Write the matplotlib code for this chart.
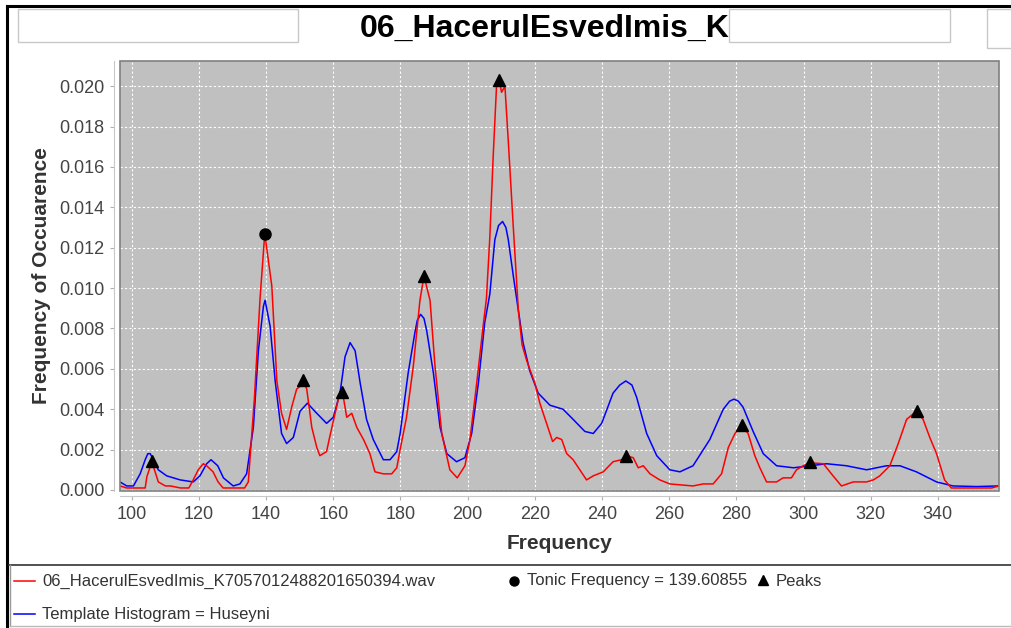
import matplotlib
matplotlib.use("Agg")
import matplotlib.pyplot as plt
from matplotlib.lines import Line2D
from matplotlib.patches import Rectangle

# ---- data ----
red_f = [96.5, 98.5, 101, 104, 104.5, 106, 107.9, 110, 111.5, 114.5, 117, 118.3, 119.8,
         121.3, 122.3, 124.2, 125.7, 127.2, 130, 133.6, 134.7, 136.5, 138.2, 139.6,
         141.7, 143.2, 144.6, 146.1, 147.6, 149.1, 150.6, 151.1, 152.1, 153.6, 155.1,
         156.0, 158.0, 158.9, 161.5, 162.7, 164.0, 165.5, 167.0, 169.0, 170.9, 172.4,
         174.9, 177.4, 178.9, 179.9, 181.8, 183.8, 185.8, 187.0, 188.8, 190.3, 192.3,
         194.7, 196.9, 199.2, 200.7, 202.7, 204.6, 205.6, 206.6, 207.6, 208.6, 209.4,
         210.1, 211.1, 212.1, 213.6, 215.1, 216.2, 217.6, 220.0, 221.5, 223.5, 225.3,
         226.5, 228.0, 229.5, 231.4, 233.4, 235.4, 237.4, 240.4, 243.3, 245.8, 247.1,
         249.3, 250.8, 252.3, 254.3, 257.2, 260.2, 267.1, 270.1, 273.1, 275.6, 277.6,
         279.6, 281.5, 283.5, 285.5, 287.0, 289.0, 292.0, 293.9, 296.4, 297.9, 299.9,
         301.9, 305.9, 308.8, 311.3, 314.8, 318.8, 320.8, 322.7, 325.7, 328.2, 330.7,
         333.6, 335.6, 337.6, 339.6, 342.0, 344.0, 356.0, 358.2]
red_v = [0.0002, 0.0001, 0.0001, 0.0001, 0.00066, 0.0014, 0.0004, 0.0002, 0.0002, 0.0001,
         0.0001, 0.0005, 0.0010, 0.0013, 0.0012, 0.0009, 0.0004, 0.0001, 0.0001, 0.0001,
         0.0004, 0.0045, 0.0095, 0.0127, 0.0101, 0.0054, 0.0038, 0.0030, 0.0041, 0.0050,
         0.0052, 0.0054, 0.0050, 0.0031, 0.0021, 0.0017, 0.0019, 0.0026, 0.0045, 0.0049,
         0.0036, 0.0038, 0.0031, 0.0025, 0.0018, 0.0009, 0.0008, 0.0008, 0.0011, 0.0020,
         0.0036, 0.0061, 0.0094, 0.0106, 0.0094, 0.0061, 0.0028, 0.0010, 0.0006, 0.0012,
         0.0025, 0.0053, 0.0081, 0.0095, 0.0125, 0.0165, 0.0200, 0.0203, 0.0197, 0.0200,
         0.0173, 0.0130, 0.0089, 0.0072, 0.0064, 0.0053, 0.0043, 0.0033, 0.0024, 0.0026,
         0.0025, 0.0018, 0.0015, 0.0010, 0.0005, 0.0007, 0.0009, 0.0014, 0.0015, 0.0017,
         0.0016, 0.0011, 0.0012, 0.0008, 0.0005, 0.0003, 0.0002, 0.0003, 0.0003, 0.0008,
         0.0021, 0.0028, 0.0032, 0.0028, 0.0017, 0.0011, 0.0004, 0.0004, 0.0006, 0.0006,
         0.0010, 0.0012, 0.00135, 0.0013, 0.0007, 0.0002, 0.0004, 0.0004, 0.0005, 0.0007,
         0.0012, 0.0023, 0.0035, 0.0039, 0.0035, 0.0026, 0.0018, 0.0005, 0.0001, 0.0001,
         0.0002]

blue_f = [96.5, 98.5, 100.5, 102.5, 104.0, 104.8, 105.5, 106.4, 107.9, 110.4, 114.4, 118.3,
          120.3, 122.3, 123.6, 125.6, 127.3, 130.2, 132.2, 134.2, 136.2, 137.7, 139.2,
          139.7, 141.2, 142.7, 144.6, 146.1, 148.1, 150.1, 152.3, 154.5, 158.0, 160.0,
          162.0, 163.5, 165.0, 166.5, 168.0, 169.9, 171.9, 174.9, 176.9, 178.9, 179.9,
          182.3, 184.3, 185.0, 186.0, 187.0, 187.8, 189.8, 191.8, 193.8, 196.7, 199.2,
          201.2, 203.2, 205.1, 206.6, 208.1, 209.2, 210.4, 211.4, 212.1, 213.6, 215.1,
          216.5, 218.5, 221.0, 224.5, 228.4, 231.4, 234.9, 237.4, 239.9, 243.3, 245.3,
          247.1, 248.9, 250.3, 253.3, 256.3, 260.2, 263.2, 267.1, 272.1, 276.1, 278.0,
          279.3, 280.6, 282.0, 285.0, 288.0, 292.0, 297.0, 301.9, 306.9, 312.8, 318.8,
          324.7, 328.7, 333.6, 339.6, 344.5, 351.5, 358.2]
blue_v = [0.0004, 0.0002, 0.0002, 0.0008, 0.0015, 0.0018, 0.0018, 0.0015, 0.0010, 0.0007,
          0.0005, 0.0004, 0.0007, 0.0013, 0.0015, 0.0012, 0.0006, 0.0002, 0.0003, 0.0008,
          0.0031, 0.0069, 0.0091, 0.0094, 0.0081, 0.0054, 0.0028, 0.0023, 0.0026, 0.0039,
          0.0043, 0.0039, 0.0033, 0.0036, 0.0048, 0.0066, 0.0073, 0.0069, 0.0053, 0.0035,
          0.0025, 0.0015, 0.0015, 0.0019, 0.0028, 0.0058, 0.0078, 0.0084, 0.0087, 0.0085,
          0.0079, 0.0058, 0.0031, 0.0018, 0.0014, 0.0016, 0.0028, 0.0053, 0.0083, 0.0097,
          0.0124, 0.0131, 0.0133, 0.0130, 0.0124, 0.0106, 0.0089, 0.0073, 0.0059, 0.0048,
          0.0042, 0.0040, 0.0035, 0.0029, 0.0028, 0.0033, 0.0048, 0.0052, 0.0054, 0.0052,
          0.0046, 0.0028, 0.0017, 0.0010, 0.0009, 0.0012, 0.0025, 0.0040, 0.0044, 0.0045,
          0.0044, 0.0041, 0.0029, 0.0018, 0.0012, 0.0011, 0.0012, 0.0013, 0.0012, 0.0010,
          0.0012, 0.0012, 0.0009, 0.0004, 0.0002, 0.00017, 0.0002]

peaks_f = [106.0, 151.0, 162.6, 187.0, 209.4, 247.1, 281.6, 301.9, 333.7]
peaks_v = [0.00144, 0.00545, 0.00485, 0.0106, 0.0203, 0.00168, 0.0032, 0.0014, 0.0039]
tonic_f = [139.60855]
tonic_v = [0.0127]

x_ticks = list(range(100, 341, 20))
y_ticks = [i * 0.002 for i in range(11)]

title = "06_HacerulEsvedImis_K"
red_label = "06_HacerulEsvedImis_K7057012488201650394.wav"
tonic_label = "Tonic Frequency = 139.60855"
peaks_label = "Peaks"
blue_label = "Template Histogram = Huseyni"

W, H = 1012, 628
def fx(x):
    return x / W
def fy(y):
    return 1 - y / H

fig = plt.figure(figsize=(W / 100, H / 100), dpi=100)
fig.patch.set_facecolor("white")

ax = fig.add_axes([fx(120), fy(491), (999 - 120) / W, (491 - 61) / H])
ax.set_facecolor("#c0c0c0")
ax.plot(blue_f, blue_v, color="#0000ff", lw=1.1, zorder=3)
ax.plot(red_f, red_v, color="#ff0000", lw=1.1, zorder=4)
ax.plot(peaks_f, peaks_v, "^", color="black", ms=8.5, zorder=5)
ax.plot(tonic_f, tonic_v, "o", color="black", ms=8, zorder=5)

ax.set_xlim(96.5, 358.2)
ax.set_ylim(-0.00005, 0.02125)
ax.set_xticks(x_ticks)
ax.set_yticks(y_ticks)
ax.set_yticklabels(["%.3f" % v for v in y_ticks])
ax.grid(True, color="white", ls=(0, (2, 2)), lw=0.8)
ax.set_axisbelow(True)

for s in ["top", "right"]:
    ax.spines[s].set_visible(False)
ax.spines["left"].set_position(("outward", 4.3))
ax.spines["bottom"].set_position(("outward", 3.6))
for s in ["left", "bottom"]:
    ax.spines[s].set_color("#c8c8c8")
ax.add_patch(Rectangle((0, 0), 1, 1, transform=ax.transAxes, fill=False,
                       ec="#808080", lw=1.2, zorder=6, clip_on=False))
ax.tick_params(direction="out", length=3, color="#b0b0b0", labelcolor="#444444",
               labelsize=13, pad=4)
for lab in ax.get_xticklabels() + ax.get_yticklabels():
    lab.set_family("Liberation Sans")

ax.set_xlabel("Frequency", fontsize=15, fontweight="bold", family="Liberation Sans",
              color="#333333", labelpad=8)
ax.set_ylabel("Frequency of Occuarence", fontsize=15, fontweight="bold",
              family="Liberation Sans", color="#333333", labelpad=6)

# title with the white boxes of the window around it
fig.text(fx(360), fy(29), title, fontsize=23, fontweight="bold", family="Liberation Sans",
         ha="left", va="center", zorder=1)
for x0, y0, x1, y1 in [(18, 9, 298, 42), (729, 9, 950, 42), (987, 9, 1030, 48)]:
    fig.add_artist(Rectangle((fx(x0), fy(y1)), (x1 - x0) / W, (y1 - y0) / H,
                             transform=fig.transFigure, fc="white", ec="#c8c8c8",
                             lw=1, zorder=5))

# outer frame and legend frame
fig.add_artist(Line2D([fx(7), fx(7)], [fy(6), 0], color="black", lw=2.2))
fig.add_artist(Line2D([fx(7), 1], [fy(6), fy(6)], color="black", lw=2.2))
fig.add_artist(Line2D([fx(9), 1], [fy(565), fy(565)], color="#333333", lw=1.2))
fig.add_artist(Line2D([fx(10), fx(10)], [fy(565), fy(626)], color="#999999", lw=1))
fig.add_artist(Line2D([fx(10), 1], [fy(626), fy(626)], color="#bbbbbb", lw=1))

# legend
lfont = dict(fontsize=12, family="Liberation Sans", color="#333333", va="center", ha="left")
fig.add_artist(Line2D([fx(14), fx(35)], [fy(581), fy(581)], color="#ff0000", lw=1.1))
fig.text(fx(42), fy(581), red_label, **lfont)
fig.add_artist(Line2D([fx(514)], [fy(581)], marker="o", color="black", ms=6.5))
fig.text(fx(527), fy(581), tonic_label, **lfont)
fig.add_artist(Line2D([fx(763)], [fy(580)], marker="^", color="black", ms=7))
fig.text(fx(776), fy(581), peaks_label, **lfont)
fig.add_artist(Line2D([fx(14), fx(35)], [fy(614), fy(614)], color="#0000ff", lw=1.1))
fig.text(fx(42), fy(614), blue_label, **lfont)

fig.savefig("out.png", dpi=100)
